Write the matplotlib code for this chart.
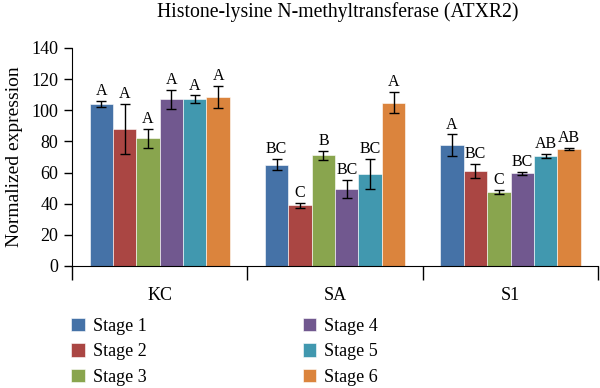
import matplotlib
matplotlib.use("Agg")
import matplotlib.pyplot as plt
import numpy as np

plt.rcParams['font.family'] = ['Liberation Serif', 'DejaVu Serif']

groups = ["KC", "SA", "S1"]
stages = ["Stage 1", "Stage 2", "Stage 3", "Stage 4", "Stage 5", "Stage 6"]
colors = ["#4572A7", "#AA4643", "#89A54E", "#71588F", "#4198AF", "#DB843D"]

# values[stage][group]
values = [
    [104, 65, 77.5],
    [88, 39, 61],
    [82, 71, 47.5],
    [107, 49.5, 59.5],
    [107, 59, 70.5],
    [108.5, 105, 75],
]
errors = [
    [2, 3.5, 7],
    [16, 1.5, 4.5],
    [6, 3, 1.5],
    [6, 6, 1],
    [2.5, 9.5, 1.3],
    [7, 7, 0.8],
]
letters = [
    ["A", "BC", "A"],
    ["A", "C", "BC"],
    ["A", "B", "C"],
    ["A", "BC", "BC"],
    ["A", "BC", "AB"],
    ["A", "A", "AB"],
]

fig = plt.figure(figsize=(6, 3.88), dpi=100)
ax = fig.add_axes([0.12, 1 - 266 / 388, 0.877, (266 - 48) / 388])

n = len(stages)
bw = 0.8 / n
x = np.arange(len(groups))
for i in range(n):
    pos = x - 0.4 + bw * (i + 0.5)
    ax.bar(pos, values[i], width=bw, color=colors[i], label=stages[i],
           edgecolor='white', linewidth=0.4)
    ax.errorbar(pos, values[i], yerr=errors[i], fmt='none', ecolor='black',
                elinewidth=1, capsize=3.5, capthick=1)
    for j in range(len(groups)):
        ax.text(pos[j], values[i][j] + errors[i][j] + 1.2, letters[i][j],
                ha='center', va='bottom', fontsize=11.5)

ax.set_xlim(-0.5, 2.5)
ax.set_ylim(0, 140)
ax.set_yticks(np.arange(0, 141, 20))
ax.tick_params(axis='y', labelsize=13, length=6, width=1, pad=4)
ax.set_xticks([-0.5, 0.5, 1.5, 2.5])
ax.set_xticklabels([])
ax.tick_params(axis='x', which='major', length=10, width=1)
ax.set_xticks(x, minor=True)
ax.set_xticklabels(groups, minor=True, fontsize=13)
ax.tick_params(axis='x', which='minor', length=0, pad=15)
for s in ['top', 'right']:
    ax.spines[s].set_visible(False)
ax.set_ylabel("Normalized expression", fontsize=14, labelpad=6)
fig.text(338 / 600, 1 - 17 / 388, "Histone-lysine N-methyltransferase (ATXR2)",
         ha='center', va='baseline', fontsize=14.2)

fig.legend(loc='upper left', bbox_to_anchor=(0.1183, 1 - 318 / 388), ncol=2, frameon=False,
           fontsize=13, handlelength=0.75, handleheight=0.75, handletextpad=0.45,
           columnspacing=8.65, labelspacing=0.46, borderaxespad=0, borderpad=0)

fig.savefig("out.png", dpi=100)
